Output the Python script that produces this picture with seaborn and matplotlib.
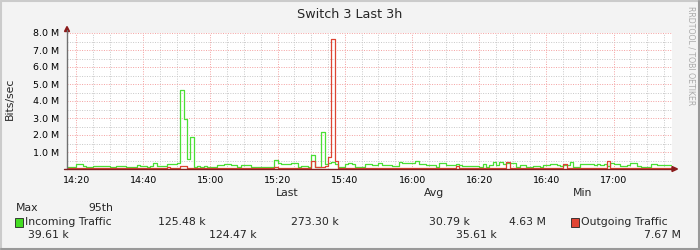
import matplotlib
matplotlib.use("Agg")
import matplotlib.pyplot as plt
import seaborn as sns
import pandas as pd
import numpy as np
from matplotlib.patches import Rectangle, Polygon
from matplotlib.lines import Line2D

# ---------------- data ----------------
title = "Switch 3 Last 3h"
y_label = "Bits/sec"
series_names = ["Incoming Traffic", "Outgoing Traffic"]
series_colors = ["#4ADF35", "#DD4433"]
# minute of day (minutes after 14:00) of first sample; one sample per minute
first_minute = 17
incoming_M = [
    0.12, 0.13, 0.12, 0.28, 0.27, 0.18, 0.10, 0.10, 0.18, 0.18,
    0.17, 0.17, 0.18, 0.12, 0.12, 0.15, 0.16, 0.15, 0.14, 0.10,
    0.12, 0.25, 0.18, 0.17, 0.13, 0.16, 0.38, 0.20, 0.20, 0.19,
    0.30, 0.29, 0.28, 0.35, 4.63, 2.95, 0.60, 1.90, 0.12, 0.15,
    0.14, 0.15, 0.10, 0.10, 0.12, 0.22, 0.22, 0.32, 0.31, 0.24,
    0.24, 0.12, 0.24, 0.23, 0.24, 0.12, 0.12, 0.13, 0.12, 0.12,
    0.13, 0.12, 0.55, 0.38, 0.32, 0.30, 0.30, 0.36, 0.37, 0.13,
    0.17, 0.15, 0.10, 0.80, 0.10, 0.10, 2.15, 0.28, 0.35, 0.42,
    0.30, 0.10, 0.12, 0.32, 0.33, 0.32, 0.14, 0.13, 0.14, 0.30,
    0.29, 0.24, 0.24, 0.33, 0.24, 0.24, 0.24, 0.18, 0.18, 0.40,
    0.33, 0.33, 0.34, 0.33, 0.45, 0.28, 0.28, 0.24, 0.24, 0.24,
    0.14, 0.33, 0.33, 0.24, 0.24, 0.24, 0.28, 0.24, 0.20, 0.20,
    0.20, 0.20, 0.20, 0.14, 0.30, 0.14, 0.24, 0.40, 0.24, 0.40,
    0.28, 0.38, 0.33, 0.33, 0.14, 0.24, 0.24, 0.10, 0.10, 0.20,
    0.20, 0.14, 0.24, 0.24, 0.28, 0.28, 0.24, 0.20, 0.24, 0.24,
    0.40, 0.14, 0.14, 0.28, 0.28, 0.28, 0.28, 0.22, 0.28, 0.22,
    0.30, 0.18, 0.36, 0.30, 0.28, 0.18, 0.18, 0.24, 0.36, 0.36,
    0.18, 0.10, 0.10, 0.14, 0.28, 0.28, 0.22, 0.22, 0.22, 0.22, 0.22,
]
outgoing_M = [
    0.04, 0.04, 0.05, 0.05, 0.04, 0.04, 0.03, 0.04, 0.05, 0.04,
    0.04, 0.05, 0.04, 0.04, 0.03, 0.04, 0.04, 0.05, 0.04, 0.04,
    0.04, 0.05, 0.04, 0.04, 0.04, 0.05, 0.06, 0.04, 0.04, 0.04,
    0.13, 0.05, 0.04, 0.06, 0.20, 0.20, 0.06, 0.05, 0.04, 0.04,
    0.04, 0.04, 0.04, 0.05, 0.04, 0.04, 0.05, 0.05, 0.04, 0.04,
    0.04, 0.04, 0.04, 0.05, 0.04, 0.04, 0.04, 0.04, 0.05, 0.04,
    0.04, 0.05, 0.12, 0.08, 0.06, 0.05, 0.05, 0.06, 0.05, 0.04,
    0.04, 0.05, 0.04, 0.45, 0.10, 0.12, 0.12, 0.15, 0.72, 7.67,
    0.45, 0.06, 0.04, 0.05, 0.04, 0.04, 0.05, 0.04, 0.04, 0.04,
    0.05, 0.04, 0.04, 0.04, 0.05, 0.04, 0.04, 0.04, 0.05, 0.04,
    0.04, 0.05, 0.04, 0.04, 0.05, 0.04, 0.04, 0.05, 0.04, 0.04,
    0.04, 0.05, 0.04, 0.04, 0.04, 0.05, 0.20, 0.04, 0.04, 0.05,
    0.04, 0.04, 0.04, 0.05, 0.04, 0.04, 0.05, 0.04, 0.04, 0.05,
    0.04, 0.40, 0.05, 0.04, 0.04, 0.04, 0.05, 0.04, 0.04, 0.04,
    0.05, 0.04, 0.04, 0.04, 0.05, 0.04, 0.04, 0.04, 0.30, 0.05,
    0.04, 0.04, 0.05, 0.04, 0.04, 0.04, 0.05, 0.04, 0.04, 0.04,
    0.05, 0.47, 0.05, 0.04, 0.04, 0.04, 0.05, 0.04, 0.04, 0.04,
    0.04, 0.05, 0.04, 0.04, 0.04, 0.04, 0.05, 0.04, 0.04, 0.04, 0.04,
]
x_tick_minutes = [20, 40, 60, 80, 100, 120, 140, 160, 180]
x_tick_labels = ["14:20", "14:40", "15:00", "15:20", "15:40", "16:00", "16:20", "16:40", "17:00"]
y_ticks_M = [1, 2, 3, 4, 5, 6, 7, 8]
y_tick_labels = ["1.0 M", "2.0 M", "3.0 M", "4.0 M", "5.0 M", "6.0 M", "7.0 M", "8.0 M"]
legend_header = ["Last", "Avg", "Min"]
legend_header2 = ["Max", "95th"]
incoming_stats = ["125.48 k", "273.30 k", "30.79 k", "4.63 M"]
outgoing_stats = ["39.61 k", "124.47 k", "35.61 k", "7.67 M"]
watermark = "RRDTOOL / TOBI OETIKER"

# ---------------- build ----------------
minutes = np.arange(first_minute, first_minute + len(incoming_M))
df = pd.concat([
    pd.DataFrame({"minute": minutes, "bps": np.array(incoming_M) * 1e6, "series": series_names[0]}),
    pd.DataFrame({"minute": minutes, "bps": np.array(outgoing_M) * 1e6, "series": series_names[1]}),
])

sns.set_theme(style="white")
plt.rcParams["font.family"] = ["DejaVu Sans"]

W, H = 700, 250
fig = plt.figure(figsize=(7, 2.5), dpi=100)
fig.patch.set_facecolor("#F3F3F3")

def fx(x):
    return x / W

def fy(y):
    return 1 - y / H

# plot canvas: x 67..672, y 33..169 (pixels)
ax = fig.add_axes([fx(67), fy(169), (672 - 67) / W, (169 - 33) / H])
ax.set_facecolor("white")

x0 = 17.3
ax.set_xlim(x0, x0 + 605 / 3.36)
ax.set_ylim(0, 8e6)

# grid
minor_x = np.arange(20, 198, 5)
for m in minor_x:
    if m % 20 != 0:
        ax.axvline(m, color="#C8C8C8", lw=0.7, ls=(0, (1, 1.5)), zorder=0)
for m in x_tick_minutes:
    ax.axvline(m, color="#F4A0A0", lw=0.7, ls=(0, (1, 1.5)), zorder=0)
for v in np.arange(0.5, 8.0, 1.0):
    ax.axhline(v * 1e6, color="#C8C8C8", lw=0.7, ls=(0, (1, 1.5)), zorder=0)
for v in y_ticks_M:
    ax.axhline(v * 1e6, color="#F4A0A0", lw=0.7, ls=(0, (1, 1.5)), zorder=0)

sns.lineplot(data=df, x="minute", y="bps", hue="series", hue_order=series_names,
             palette=series_colors, drawstyle="steps-post", lw=0.9,
             estimator=None, legend=False, ax=ax, zorder=3)

for s in ax.spines.values():
    s.set_visible(False)
ax.set_xlabel("")
ax.set_ylabel("")
ax.set_xticks(x_tick_minutes)
ax.set_xticklabels(x_tick_labels)
ax.set_yticks([v * 1e6 for v in y_ticks_M])
ax.set_yticklabels(y_tick_labels)
ax.tick_params(axis="both", length=0, labelsize=6.8, colors="black")
ax.tick_params(axis="x", pad=5.2)
ax.tick_params(axis="y", pad=5.6)

# axes lines and arrows (figure pixel coords)
fig.add_artist(Line2D([fx(67), fx(67)], [fy(169), fy(30)], color="#707070", lw=1.0))
fig.add_artist(Line2D([fx(64), fx(673)], [fy(169), fy(169)], color="#802020", lw=1.0, zorder=5))
fig.add_artist(Polygon([[fx(64.5), fy(31.5)], [fx(69.5), fy(31.5)], [fx(67), fy(26.5)]],
                       closed=True, color="#8B1A1A", transform=fig.transFigure))
fig.add_artist(Polygon([[fx(672), fy(166.5)], [fx(672), fy(171.5)], [fx(677.5), fy(169)]],
                       closed=True, color="#8B1A1A", transform=fig.transFigure))

# title, axis label, watermark
fig.text(fx(350), fy(14), title, ha="center", va="center", fontsize=9.2)
fig.text(fx(10), fy(99), y_label, ha="center", va="center", rotation=90, fontsize=7.8)
fig.text(fx(691), fy(56), watermark, ha="center", va="center", rotation=270,
         fontsize=5.6, color="#AAAAAA")

# legend
lfs = 7.8
for txt, x in zip(legend_header, [276, 424, 573]):
    fig.text(fx(x), fy(193), txt, ha="left", va="center", fontsize=lfs)
for txt, x in zip(legend_header2, [16, 88]):
    fig.text(fx(x), fy(208), txt, ha="left", va="center", fontsize=lfs)

fig.add_artist(Rectangle((fx(15), fy(226.5)), 8 / W, 9 / H, facecolor="#44DD22",
                         edgecolor="#222222", lw=0.6, transform=fig.transFigure))
fig.text(fx(24.5), fy(222), series_names[0], ha="left", va="center", fontsize=lfs)
for txt, x in zip(incoming_stats, [158, 291, 429, 509]):
    fig.text(fx(x), fy(222), txt, ha="left", va="center", fontsize=lfs)
fig.add_artist(Rectangle((fx(571), fy(226.5)), 8 / W, 9 / H, facecolor="#E04433",
                         edgecolor="#222222", lw=0.6, transform=fig.transFigure))
fig.text(fx(581), fy(222), series_names[1], ha="left", va="center", fontsize=lfs)
for txt, x in zip(outgoing_stats, [28, 209, 456, 644]):
    fig.text(fx(x), fy(235), txt, ha="left", va="center", fontsize=lfs)

# 3D-ish frame
fig.add_artist(Line2D([fx(0.5), fx(699.5)], [fy(0.5), fy(0.5)], color="#CBCBCB", lw=1.5))
fig.add_artist(Line2D([fx(0.5), fx(0.5)], [fy(0.5), fy(249.5)], color="#CBCBCB", lw=1.5))
fig.add_artist(Line2D([fx(0.5), fx(699.5)], [fy(249), fy(249)], color="#999999", lw=1.5))
fig.add_artist(Line2D([fx(699), fx(699)], [fy(0.5), fy(249.5)], color="#999999", lw=1.5))

fig.savefig("out.png", dpi=100, facecolor=fig.get_facecolor())
